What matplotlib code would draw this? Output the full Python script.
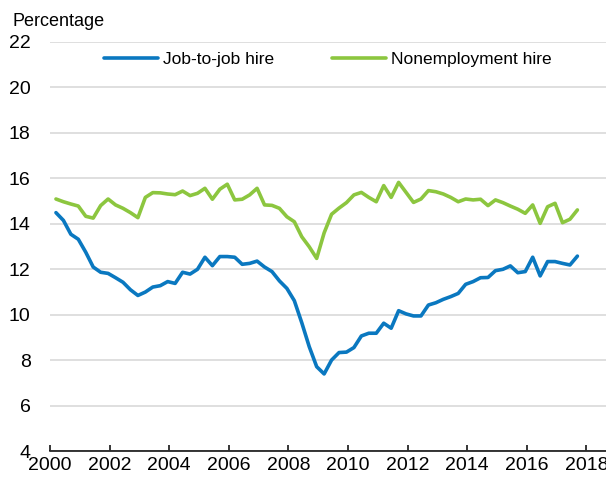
import numpy as np
import pandas as pd
from matplotlib import pyplot as plt

plt.rcParams['font.family'] = ['Liberation Sans', 'DejaVu Sans']

# quarterly, 2000Q1 - 2017Q3
quarters = pd.period_range('2000Q1', '2017Q3', freq='Q')
years = np.array([q.year + (q.quarter - 0.2) / 4 for q in quarters])

job_to_job = [14.49, 14.15, 13.54, 13.32, 12.75, 12.10, 11.87, 11.82, 11.63, 11.43,
              11.10, 10.85, 11.00, 11.22, 11.28, 11.46, 11.38, 11.87, 11.79, 12.00,
              12.53, 12.16, 12.56, 12.56, 12.53, 12.22, 12.26, 12.36, 12.10, 11.90,
              11.49, 11.16, 10.62, 9.65, 8.60, 7.72, 7.40, 8.01, 8.34, 8.36,
              8.56, 9.07, 9.19, 9.19, 9.63, 9.41, 10.18, 10.04, 9.95, 9.95,
              10.43, 10.53, 10.68, 10.80, 10.94, 11.34, 11.46, 11.63, 11.64, 11.94,
              12.00, 12.15, 11.85, 11.90, 12.53, 11.71, 12.34, 12.34, 12.26, 12.19, 12.58]

nonemployment = [15.09, 14.97, 14.87, 14.78, 14.33, 14.25, 14.80, 15.09, 14.83, 14.68,
                 14.49, 14.27, 15.16, 15.37, 15.36, 15.31, 15.28, 15.44, 15.24, 15.34,
                 15.56, 15.08, 15.52, 15.74, 15.05, 15.08, 15.27, 15.56, 14.83, 14.81,
                 14.68, 14.31, 14.09, 13.43, 12.99, 12.48, 13.60, 14.42, 14.69, 14.93,
                 15.27, 15.38, 15.16, 14.97, 15.68, 15.16, 15.82, 15.38, 14.94, 15.09,
                 15.46, 15.41, 15.31, 15.16, 14.97, 15.09, 15.05, 15.08, 14.80, 15.05,
                 14.93, 14.78, 14.64, 14.46, 14.83, 14.02, 14.75, 14.90, 14.05, 14.20, 14.61]

x_ticks = list(range(2000, 2019, 2))
y_ticks = list(range(4, 23, 2))

fig = plt.figure(figsize=(6.06, 4.84), dpi=100)
ax = fig.add_axes([50 / 606, 32.7 / 484, 556 / 606, 409.5 / 484])

ax.plot(years, job_to_job, color='#0a78c0', lw=2.6, label='Job-to-job hire', solid_capstyle='round')
ax.plot(years, nonemployment, color='#8cc63f', lw=2.6, label='Nonemployment hire', solid_capstyle='round')

ax.set_xlim(2000, 2018.66)
ax.set_ylim(4, 22)
ax.set_xticks(x_ticks)
ax.set_yticks(y_ticks)

ax.grid(axis='y', color='#d9d9d9', lw=1.2)
ax.set_axisbelow(True)
for s in ['top', 'right', 'left']:
    ax.spines[s].set_visible(False)
ax.spines['bottom'].set_color('black')
ax.spines['bottom'].set_linewidth(1.1)

ax.tick_params(axis='x', direction='in', length=4.5, width=1.1, labelsize=14, pad=4)
ax.tick_params(axis='y', length=0, labelsize=14, pad=14)

ax.legend(loc='center', bbox_to_anchor=(0.5, 0.956), ncol=2, frameon=False, fontsize=12.5,
          handlelength=3.1, handletextpad=0.3, columnspacing=3.3)

fig.text(12 / 606, 1 - 26 / 484, 'Percentage', fontsize=13, va='baseline')

plt.savefig('out.png', dpi=100)
